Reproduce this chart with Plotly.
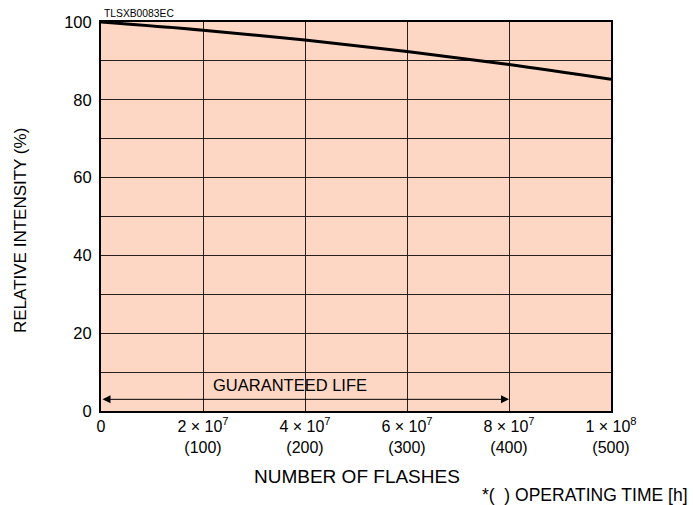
import plotly.graph_objects as go

# Relative intensity vs. number of flashes
flashes = [0, 2e7, 4e7, 6e7, 8e7, 1e8]
intensity = [100, 97.9, 95.4, 92.4, 89.1, 85.3]

x_tick_vals = [0, 2e7, 4e7, 6e7, 8e7, 1e8]
x_tick_text = [
    "0",
    "2 × 10<sup>7</sup><br>(100)",
    "4 × 10<sup>7</sup><br>(200)",
    "6 × 10<sup>7</sup><br>(300)",
    "8 × 10<sup>7</sup><br>(400)",
    "1 × 10<sup>8</sup><br>(500)",
]
y_tick_vals = [0, 20, 40, 60, 80, 100]

guaranteed_life_end = 8e7
guaranteed_life_level = 3

FONT = "Liberation Sans, Arial, Helvetica, sans-serif"
FILL = "rgb(253,214,196)"
GRID = "rgb(40,30,30)"

W, H = 693, 505
ML, MR, MT, MB = 101, 82, 22, 94
plot_w = W - ML - MR
plot_h = H - MT - MB


def px_x(x):
    return (x - ML) / plot_w


def px_y(y):
    return (H - MB - y) / plot_h


fig = go.Figure()
fig.add_trace(go.Scatter(
    x=flashes, y=intensity, mode="lines",
    line=dict(color="black", width=3, shape="spline", smoothing=1.0),
    showlegend=False, hoverinfo="skip",
))

fig.update_layout(
    width=W, height=H,
    margin=dict(l=ML, r=MR, t=MT, b=MB),
    paper_bgcolor="white",
    plot_bgcolor=FILL,
    font=dict(family=FONT, color="black", size=16),
    xaxis=dict(
        range=[0, 1e8], tickvals=x_tick_vals, ticktext=x_tick_text,
        showgrid=True, gridcolor=GRID, gridwidth=1,
        zeroline=False, showline=True, linecolor="black", linewidth=2,
        mirror=True, ticks="", tickfont=dict(size=16), ticklabelstandoff=0,
    ),
    yaxis=dict(
        range=[0, 100], tickvals=y_tick_vals,
        showgrid=True, gridcolor=GRID, gridwidth=1,
        minor=dict(dtick=10, tick0=0, showgrid=True, gridcolor=GRID, gridwidth=1),
        zeroline=False, showline=True, linecolor="black", linewidth=2,
        mirror=True, ticks="", tickfont=dict(size=16.5), ticklabelstandoff=4,
    ),
)

# Guaranteed-life span arrow
fig.add_annotation(
    x=guaranteed_life_end, y=guaranteed_life_level,
    ax=0, ay=guaranteed_life_level, axref="x", ayref="y", xref="x", yref="y",
    text="", showarrow=True, arrowside="end+start",
    arrowhead=2, arrowsize=1.6, arrowwidth=1, arrowcolor="black",
    standoff=0, startstandoff=0,
)
fig.add_annotation(
    x=3.7e7, y=6.8, xref="x", yref="y", text="GUARANTEED LIFE",
    showarrow=False, font=dict(size=16.5),
)

# Titles and notes
fig.add_annotation(
    x=px_x(357), y=px_y(476), xref="paper", yref="paper",
    xanchor="center", yanchor="middle",
    text="NUMBER OF FLASHES", showarrow=False, font=dict(size=19),
)
fig.add_annotation(
    x=px_x(20), y=px_y(231), xref="paper", yref="paper",
    xanchor="center", yanchor="middle",
    text="RELATIVE INTENSITY (%)", textangle=-90,
    showarrow=False, font=dict(size=17),
)
fig.add_annotation(
    x=px_x(690), y=px_y(495), xref="paper", yref="paper",
    xanchor="right", yanchor="middle",
    text="*(  ) OPERATING TIME [h]", showarrow=False, font=dict(size=17.5),
)
fig.add_annotation(
    x=px_x(102), y=px_y(13), xref="paper", yref="paper",
    xanchor="left", yanchor="middle",
    text="TLSXB0083EC", showarrow=False, font=dict(size=10.3),
)

fig.write_html("out.html")
